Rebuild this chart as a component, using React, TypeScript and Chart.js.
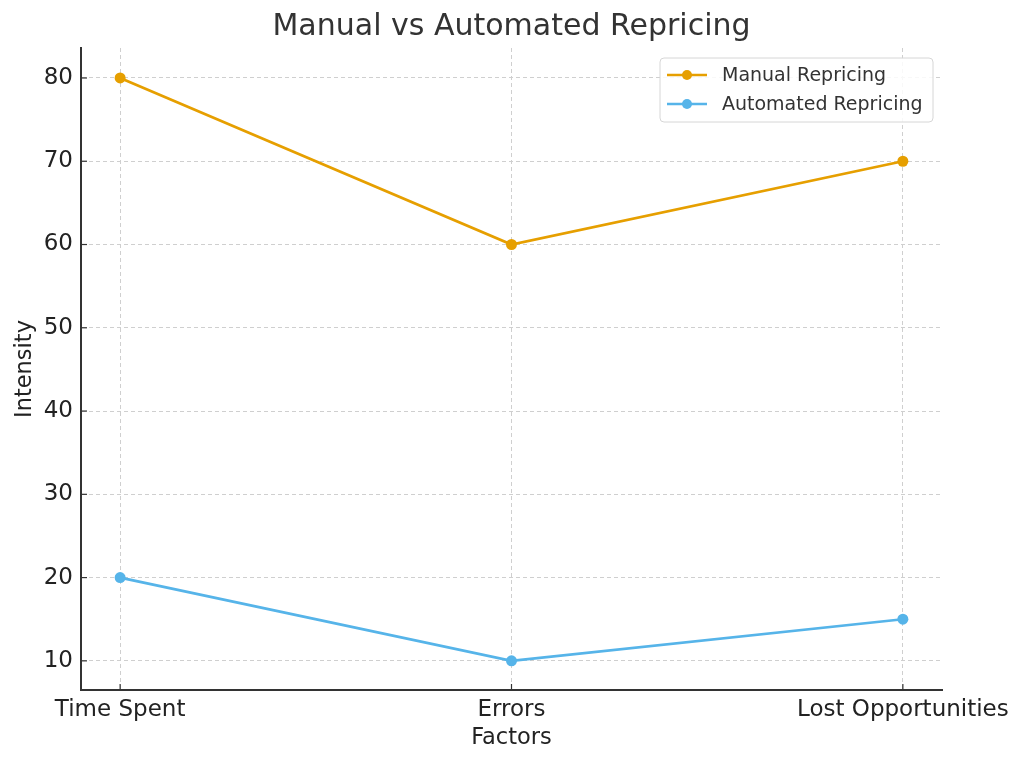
import React, { useEffect, useRef } from "react";
import { Chart, registerables } from "chart.js";

Chart.register(...registerables);

const categories = ["Time Spent", "Errors", "Lost Opportunities"];
const manualValues = [80, 60, 70];
const automatedValues = [20, 10, 15];
const yTicks = [10, 20, 30, 40, 50, 60, 70, 80];

const FONT = "'DejaVu Sans', sans-serif";

const overlayPlugin = {
  id: "overlay",
  afterDatasetsDraw(chart: any) {
    const ctx = chart.ctx;
    const area = chart.chartArea;
    const xs = chart.scales.x;
    const ys = chart.scales.y;
    ctx.save();
    // inward tick marks
    ctx.strokeStyle = "#333333";
    ctx.lineWidth = 1.2;
    categories.forEach((_, i) => {
      const px = xs.getPixelForValue(i);
      ctx.beginPath();
      ctx.moveTo(px, area.bottom);
      ctx.lineTo(px, area.bottom - 6);
      ctx.stroke();
    });
    yTicks.forEach((v) => {
      const py = ys.getPixelForValue(v);
      ctx.beginPath();
      ctx.moveTo(area.left, py);
      ctx.lineTo(area.left + 6, py);
      ctx.stroke();
    });
    // title
    ctx.fillStyle = "#333333";
    ctx.font = `30px ${FONT}`;
    ctx.textAlign = "center";
    ctx.textBaseline = "middle";
    ctx.fillText("Manual vs Automated Repricing", (area.left + area.right) / 2, 27);
    // axis titles
    ctx.font = `22.5px ${FONT}`;
    ctx.fillStyle = "#222222";
    ctx.fillText("Factors", (area.left + area.right) / 2, 738);
    ctx.save();
    ctx.translate(25, (area.top + area.bottom) / 2);
    ctx.rotate(-Math.PI / 2);
    ctx.fillText("Intensity", 0, 0);
    ctx.restore();
    // legend
    const lx = 660, ly = 58, lw = 273, lh = 64, r = 4;
    ctx.beginPath();
    ctx.moveTo(lx + r, ly);
    ctx.arcTo(lx + lw, ly, lx + lw, ly + lh, r);
    ctx.arcTo(lx + lw, ly + lh, lx, ly + lh, r);
    ctx.arcTo(lx, ly + lh, lx, ly, r);
    ctx.arcTo(lx, ly, lx + lw, ly, r);
    ctx.closePath();
    ctx.fillStyle = "rgba(255,255,255,0.85)";
    ctx.fill();
    ctx.strokeStyle = "#d6d6d6";
    ctx.lineWidth = 1;
    ctx.stroke();
    const items = [
      { label: "Manual Repricing", color: "#E69F00", y: 75 },
      { label: "Automated Repricing", color: "#56B4E9", y: 104 },
    ];
    ctx.textAlign = "left";
    ctx.font = `19px ${FONT}`;
    items.forEach((it) => {
      ctx.strokeStyle = it.color;
      ctx.lineWidth = 2.5;
      ctx.beginPath();
      ctx.moveTo(667, it.y);
      ctx.lineTo(707, it.y);
      ctx.stroke();
      ctx.fillStyle = it.color;
      ctx.beginPath();
      ctx.arc(687, it.y, 5, 0, Math.PI * 2);
      ctx.fill();
      ctx.fillStyle = "#333333";
      ctx.fillText(it.label, 722, it.y + 1);
    });
    ctx.restore();
  },
};

export default function App() {
  const ref = useRef<HTMLCanvasElement>(null);
  useEffect(() => {
    if (!ref.current) return;
    const chart = new Chart(ref.current, {
      type: "line",
      data: {
        datasets: [
          {
            label: "Manual Repricing",
            data: manualValues.map((v, i) => ({ x: i, y: v })),
            borderColor: "#E69F00",
            backgroundColor: "#E69F00",
            borderWidth: 2.7,
            pointRadius: 5.5,
            pointBorderWidth: 0,
            pointBackgroundColor: "#E69F00",
            tension: 0,
          },
          {
            label: "Automated Repricing",
            data: automatedValues.map((v, i) => ({ x: i, y: v })),
            borderColor: "#56B4E9",
            backgroundColor: "#56B4E9",
            borderWidth: 2.7,
            pointRadius: 5.5,
            pointBorderWidth: 0,
            pointBackgroundColor: "#56B4E9",
            tension: 0,
          },
        ],
      },
      plugins: [overlayPlugin],
      options: {
        animation: false,
        responsive: false,
        devicePixelRatio: 1,
        layout: { padding: { top: 48, right: 82, left: 0, bottom: 0 } },
        plugins: {
          legend: { display: false },
          title: { display: false },
          tooltip: { enabled: false },
        },
        scales: {
          x: {
            type: "linear",
            min: -0.1,
            max: 2.1,
            afterBuildTicks: (s: any) => {
              s.ticks = categories.map((_, i) => ({ value: i }));
            },
            afterFit: (s: any) => {
              s.height = 75;
            },
            ticks: {
              autoSkip: false,
              maxRotation: 0,
              minRotation: 0,
              padding: 6,
              color: "#222222",
              font: { family: FONT, size: 23 },
              callback: (v: any) => categories[Math.round(Number(v))] ?? "",
            },
            grid: {
              drawTicks: false,
              color: "#cfcfcf",
              lineWidth: 1,
            },
            border: { display: true, color: "#333333", width: 2, dash: [4, 3] } as any,
          },
          y: {
            type: "linear",
            min: 6.5,
            max: 83.6,
            afterBuildTicks: (s: any) => {
              s.ticks = yTicks.map((v) => ({ value: v }));
            },
            afterFit: (s: any) => {
              s.width = 81;
            },
            ticks: {
              padding: 8,
              color: "#222222",
              font: { family: FONT, size: 23 },
            },
            grid: {
              drawTicks: false,
              color: "#cfcfcf",
              lineWidth: 1,
            },
            border: { display: true, color: "#333333", width: 2, dash: [4, 3] } as any,
          },
        },
      } as any,
    });
    return () => chart.destroy();
  }, []);
  return (
    <div style={{ position: "absolute", left: 0, top: 0, width: 1024, height: 765, background: "#fff" }}>
      <canvas ref={ref} width={1024} height={765} style={{ width: 1024, height: 765 }} />
    </div>
  );
}
